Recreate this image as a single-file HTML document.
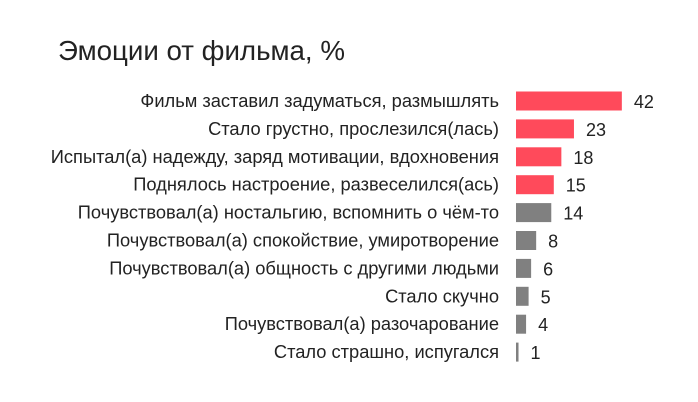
<!DOCTYPE html>
<html><head><meta charset="utf-8"><style>
body{margin:0;background:#fff;}
svg{display:block;font-family:"Liberation Sans",sans-serif;}
</style></head><body>
<svg width="698" height="402">
<text x="58" y="60" font-size="27.7" fill="#222">Эмоции от фильма, %</text>
<g id="rows"></g>
</svg>
<script>
const categories=["Фильм заставил задуматься, размышлять","Стало грустно, прослезился(лась)","Испытал(а) надежду, заряд мотивации, вдохновения","Поднялось настроение, развеселился(ась)","Почувствовал(а) ностальгию, вспомнить о чём-то","Почувствовал(а) спокойствие, умиротворение","Почувствовал(а) общность с другими людьми","Стало скучно","Почувствовал(а) разочарование","Стало страшно, испугался"];
const values=[42,23,18,15,14,8,6,5,4,1];
const highlight=[true,true,true,true,false,false,false,false,false,false];
const ns="http://www.w3.org/2000/svg";
const g=document.getElementById('rows');
const x0=516, scale=2.52, y0=101, step=27.9, bh=19;
const xs=v=>x0+v*scale, ys=i=>y0+i*step;
categories.forEach((c,i)=>{
  const t=document.createElementNS(ns,'text');
  
  
  t.setAttribute('x',499);t.setAttribute('y',ys(i)+6);
  t.setAttribute('text-anchor','end');t.setAttribute('font-size','18.3');t.setAttribute('fill','#222');
  t.textContent=c;g.appendChild(t);
  const r=document.createElementNS(ns,'rect');
  
  
  r.setAttribute('x',x0);r.setAttribute('y',ys(i)-bh/2);
  r.setAttribute('width',Math.max(xs(values[i])-x0,2));r.setAttribute('height',bh);
  r.setAttribute('fill',highlight[i]?'#ff4a5b':'#808080');
  g.appendChild(r);
  const v=document.createElementNS(ns,'text');
  
  
  v.setAttribute('x',Math.max(xs(values[i]),x0+2)+12);v.setAttribute('y',ys(i)+7);
  v.setAttribute('font-size','18');v.setAttribute('fill','#222');
  v.textContent=values[i];g.appendChild(v);
});
</script>
</body></html>
